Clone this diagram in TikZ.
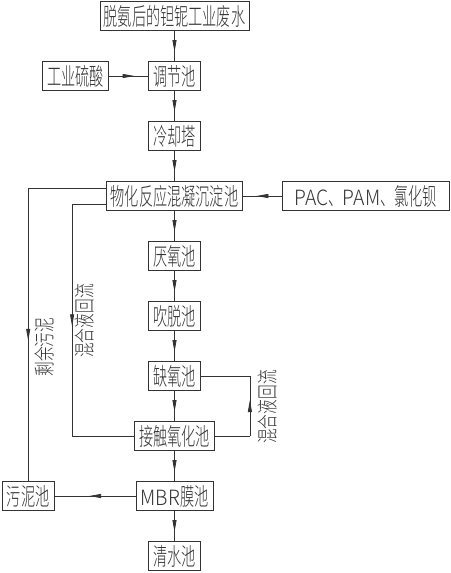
\documentclass[tikz,border=0pt]{standalone}
\usepackage{fontspec}
\newfontfamily\cjk[FakeStretch=0.59]{Noto Sans CJK SC Light}
\newfontfamily\cjknote[FakeStretch=0.7]{Noto Sans CJK SC Light}
\newfontfamily\lat[FakeStretch=0.92]{Noto Sans CJK SC Light}
\usetikzlibrary{positioning, arrows.meta, decorations.markings}

\begin{document}
\begin{tikzpicture}[x=1pt, y=1pt, black!80, line width=0.8pt,
    tank/.style={draw, inner sep=0pt, minimum height=29pt, font=\cjk\fontsize{24}{24}\selectfont},
    flow/.style={postaction={decorate}, decoration={markings, mark=at position 0.5 with {\arrow[xshift=6pt]{Triangle[length=12pt, width=4pt]}}}},
    note/.style={rotate=90, inner sep=0pt, font=\cjknote\fontsize{21}{21}\selectfont}]
    \useasboundingbox (0,0) rectangle (450,-573);

    \node[tank, minimum width=149pt] (waste) at (174.5,-16) {脱氨后的钽铌工业废水};
    \node[tank, minimum width=52pt, below=30.2pt of waste] (adjust) {调节池};
    \node[tank, minimum width=66pt, left=39pt of adjust] (acid) {工业硫酸};
    \node[tank, minimum width=52pt, below=30.2pt of adjust] (cool) {冷却塔};
    \node[tank, minimum width=136pt, below=30.2pt of cool] (phys) {物化反应混凝沉淀池};
    \node[tank, minimum width=167pt, right=39pt of phys] (agent) {{\lat\fontsize{21}{21}\selectfont PAC}、{\lat\fontsize{21}{21}\selectfont PAM}、氯化钡};
    \node[tank, minimum width=52pt, below=30.2pt of phys] (anaer) {厌氧池};
    \node[tank, minimum width=52pt, below=30.2pt of anaer] (strip) {吹脱池};
    \node[tank, minimum width=52pt, below=30.2pt of strip] (anox) {缺氧池};
    \node[tank, minimum width=80pt, below=30.2pt of anox] (contact) {接触氧化池};
    \node[tank, minimum width=77pt, below=30.2pt of contact] (mbr) {{\lat\fontsize{21}{21}\selectfont MBR}膜池};
    \node[tank, minimum width=52pt, left=81pt of mbr] (sludge) {污泥池};
    \node[tank, minimum width=52pt, below=30.2pt of mbr] (clear) {清水池};

    % main line
    \draw[flow] (waste) -- (adjust);
    \draw[flow] (acid) -- (adjust);
    \draw[flow] (adjust) -- (cool);
    \draw[flow] (cool) -- (phys);
    \draw[flow] (agent) -- (phys);
    \draw[flow] (phys) -- (anaer);
    \draw[flow] (anaer) -- (strip);
    \draw[flow] (strip) -- (anox);
    \draw[flow] (anox) -- (contact);
    \draw[flow] (contact) -- (mbr);
    \draw[flow] (mbr) -- (sludge);
    \draw[flow] (mbr) -- (clear);

    % surplus sludge
    \coordinate (sludgeout) at ([yshift=7.5pt]phys.west);
    \coordinate (turnA) at (sludgeout -| sludge.north);
    \draw (sludgeout) -- (turnA);
    \draw[flow] (turnA) -- (sludge.north);
    \node[note] (sludgenote) at (44,-347) {剩余污泥};

    % mixed liquor return, left
    \coordinate (mixout) at ([yshift=-8.5pt]phys.west);
    \coordinate (turnB) at ([xshift=-34pt]mixout);
    \coordinate (turnC) at (turnB |- contact.west);
    \draw (mixout) -- (turnB);
    \draw[flow] (turnB) -- (turnC);
    \draw (turnC) -- (contact.west);
    \node[note] (mixnoteA) at (85,-321) {混合液回流};

    % mixed liquor return, right
    \coordinate (turnD) at ([xshift=35pt]contact.east);
    \coordinate (turnE) at (turnD |- anox.east);
    \draw (contact.east) -- (turnD);
    \draw[flow] (turnD) -- (turnE);
    \draw (turnE) -- (anox.east);
    \node[note] (mixnoteB) at (267.5,-407) {混合液回流};

\end{tikzpicture}
\end{document}
